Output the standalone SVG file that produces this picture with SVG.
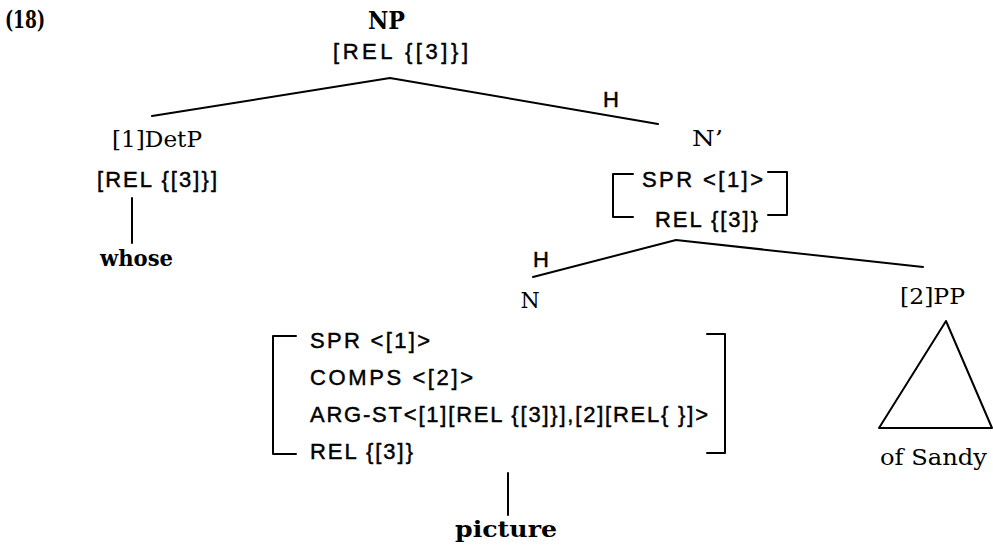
<svg xmlns="http://www.w3.org/2000/svg" width="993" height="548" viewBox="0 0 993 548">
<style>
.serif{font-family:"DejaVu Serif","Liberation Serif",serif;fill:#000}
.b{font-weight:bold}
.sans{font-family:"Liberation Sans",Arial,sans-serif;font-size:22px;fill:#000;stroke:#000;stroke-width:0.45}
.ln{stroke:#000;stroke-width:2;fill:none;stroke-linecap:round;stroke-linejoin:round}
</style>
<rect width="993" height="548" fill="#fff"/>
<text class="serif b" x="5" y="28" font-size="24" textLength="40" lengthAdjust="spacingAndGlyphs">(18)</text>
<g id="np">
<text class="serif b" x="368" y="29" font-size="24" textLength="37" lengthAdjust="spacingAndGlyphs">NP</text>
<text class="sans" x="333" y="59" textLength="135" lengthAdjust="spacing">[REL  {[3]}]</text>
</g>
<g id="detp">
<text class="serif" x="112" y="147" font-size="22" textLength="90" lengthAdjust="spacingAndGlyphs">[1]DetP</text>
<text class="sans" x="97" y="187" textLength="120" lengthAdjust="spacing">[REL  {[3]}]</text>
</g>
<g id="whose"><text class="serif b" x="100" y="266" font-size="22" textLength="73" lengthAdjust="spacingAndGlyphs">whose</text></g>
<g id="nbar">
<text class="serif" x="692" y="146" font-size="22" textLength="31" lengthAdjust="spacingAndGlyphs">N’</text>
<text class="sans" x="642" y="187" textLength="121" lengthAdjust="spacing">SPR  &lt;[1]&gt;</text>
<text class="sans" x="655" y="227" textLength="103" lengthAdjust="spacing">REL  {[3]}</text>
<path class="ln" d="M633,174 H613 V217 H633 M768,172 H787 V215 H768"/>
</g>
<g id="n">
<text class="serif" x="530" y="308" font-size="22" text-anchor="middle">N</text>
<text class="sans" x="310" y="348" textLength="120" lengthAdjust="spacing">SPR  &lt;[1]&gt;</text>
<text class="sans" x="310" y="385" textLength="163" lengthAdjust="spacing">COMPS  &lt;[2]&gt;</text>
<text class="sans" x="310" y="422" textLength="398" lengthAdjust="spacing">ARG-ST&lt;[1][REL  {[3]}],[2][REL{  }]&gt;</text>
<text class="sans" x="310" y="459" textLength="103" lengthAdjust="spacing">REL  {[3]}</text>
<path class="ln" d="M296,336 H273 V454 H296 M707,334 H725 V453 H707"/>
</g>
<g id="picture"><text class="serif b" x="455" y="537" font-size="22" textLength="102" lengthAdjust="spacingAndGlyphs">picture</text></g>
<g id="pp">
<text class="serif" x="900" y="304" font-size="22" textLength="65" lengthAdjust="spacingAndGlyphs">[2]PP</text>
<path class="ln" d="M946,321 L879,428 H992 Z"/>
<text class="serif" x="880" y="465" font-size="22" textLength="107" lengthAdjust="spacingAndGlyphs">of Sandy</text>
</g>
<g id="connectors">
<path class="ln" d="M152,116 L390,78 L658,124"/>
<text class="sans" x="603" y="107">H</text>
<line class="ln" x1="132" y1="198" x2="132" y2="243"/>
<path class="ln" d="M533,277 L676,240 L923,267"/>
<text class="sans" x="533" y="267">H</text>
<line class="ln" x1="508" y1="473" x2="508" y2="515"/>
</g>
</svg>
